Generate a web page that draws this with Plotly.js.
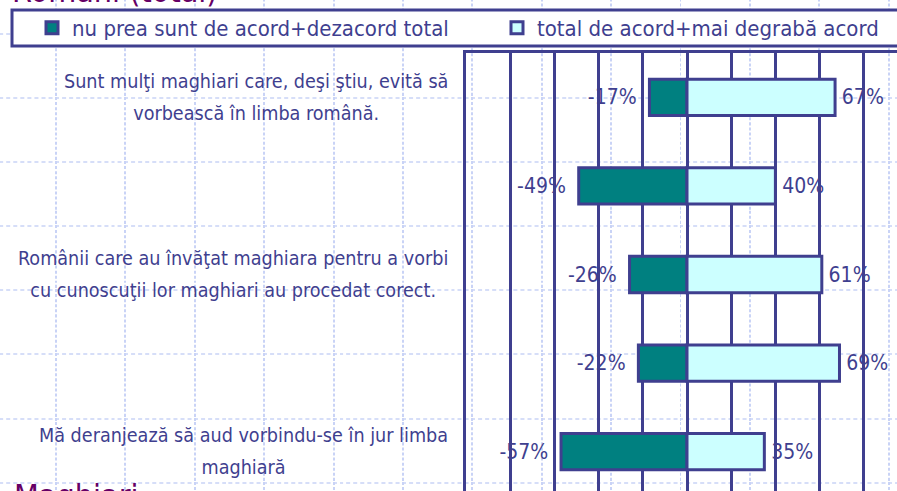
<!DOCTYPE html>
<html><head><meta charset="utf-8">
<script src="https://cdn.plot.ly/plotly-3.0.1.min.js"></script>
<style>
html,body{margin:0;padding:0;overflow:hidden;width:897px;height:491px;background:#fff;}
#wrap{width:897px;height:491px;overflow:hidden;position:relative;background-color:#fff;
background-image:url("data:image/svg+xml,%3Csvg xmlns='http://www.w3.org/2000/svg' width='69.4' height='64.1'%3E%3Cline x1='1' y1='0' x2='1' y2='64.1' stroke='%23c9d3f6' stroke-width='2' stroke-dasharray='3 2'/%3E%3Cline x1='0' y1='1' x2='69.4' y2='1' stroke='%23c9d3f6' stroke-width='1.6' stroke-dasharray='4 3'/%3E%3C/svg%3E");
background-size:69.4px 64.1px;background-position:55px 33px;}
#chart{width:920px;height:510px;}
</style></head><body><div id="wrap"><div id="chart"></div></div>
<script>
// ---- data ----
const categories = ["Q1", "Q2", "Q3", "Q4", "Q5"];
const labelLines = [
  ["Sunt mulţi maghiari care, deşi ştiu, evită să", "vorbească în limba română."],
  [],
  ["Românii care au învăţat maghiara pentru a vorbi", "cu cunoscuţii lor maghiari au procedat corect."],
  [],
  ["Mă deranjează să aud vorbindu-se în jur limba", "maghiară"]
];
const disagree = [-17, -49, -26, -22, -57];
const agree = [67, 40, 61, 69, 35];
const seriesNames = ["nu prea sunt de acord+dezacord total", "total de acord+mai degrabă acord"];
const titleText = "Români (total)";
const footerText = "Maghiari";

// ---- styling ----
const FONT = "DejaVu Sans Condensed, DejaVu Sans, sans-serif";
const NAVY = "#3f3f8f";
const PURPLE = "#660066";
const W = 920, H = 510;
const L = 466, R = 12, T = 53, B = 14;
const pw = W - L - R, ph = H - T - B;
const px2x = p => (p - L) / pw;
const py2y = p => (H - B - p) / ph;

const traces = [
  {type: "bar", orientation: "h", name: seriesNames[0], legend: "legend", y: categories, x: disagree,
   text: disagree.map(v => v + "%\u00a0\u2009"), textposition: "outside", constraintext: "none",
   cliponaxis: false, textfont: {family: FONT, size: 21, color: NAVY},
   marker: {color: "#008080", line: {color: NAVY, width: 3}}, hoverinfo: "x"},
  {type: "bar", orientation: "h", name: seriesNames[1], legend: "legend2", y: categories, x: agree,
   text: agree.map(v => "\u2009" + v + "%"), textposition: "outside", constraintext: "none",
   cliponaxis: false, textfont: {family: FONT, size: 21, color: NAVY},
   marker: {color: "#ccffff", line: {color: NAVY, width: 3}}, hoverinfo: "x"}
];

const annotations = [];
categories.forEach((c, i) => {
  if (!labelLines[i].length) return;
  annotations.push({
    xref: "paper", yref: "y", x: px2x(450), y: c, xanchor: "right", yanchor: "middle",
    align: "center", showarrow: false,
    text: labelLines[i].map(s => "<span style='font-size:19.6px'>" + s + "</span>").join("<br>"),
    font: {family: FONT, size: 24.6, color: NAVY}
  });
});
annotations.push({
  xref: "paper", yref: "paper", x: px2x(12), y: py2y(475), xanchor: "left", yanchor: "top",
  showarrow: false, text: footerText, font: {family: FONT, size: 32, color: PURPLE}
});

const legendBase = {orientation: "h", xanchor: "left", yanchor: "middle",
  bgcolor: "rgba(0,0,0,0)", borderwidth: 0,
  font: {family: FONT, size: 22, color: NAVY}};

const layout = {
  width: W, height: H,
  margin: {l: L, r: R, t: T, b: B, pad: 0, autoexpand: false},
  paper_bgcolor: "rgba(0,0,0,0)", plot_bgcolor: "rgba(0,0,0,0)",
  font: {family: FONT, color: NAVY},
  title: {text: titleText, font: {family: FONT, size: 32, color: PURPLE},
          xref: "container", x: 12 / W, xanchor: "left",
          yref: "container", y: 1 - 2 / H, yanchor: "bottom", automargin: false},
  barmode: "overlay", bargap: 0.59,
  showlegend: true,
  legend: Object.assign({}, legendBase, {x: px2x(32), y: py2y(28)}),
  legend2: Object.assign({}, legendBase, {x: px2x(497), y: py2y(28)}),
  xaxis: {range: [-100, 100], dtick: 20, tick0: 0, showgrid: true, gridcolor: NAVY, gridwidth: 3,
          zeroline: true, zerolinecolor: NAVY, zerolinewidth: 3,
          showline: true, mirror: true, linecolor: NAVY, linewidth: 3,
          ticksuffix: "%", showticklabels: false, ticks: "", fixedrange: true},
  yaxis: {type: "category", autorange: "reversed", showgrid: false, zeroline: false,
          showline: true, mirror: true, linecolor: NAVY, linewidth: 3,
          showticklabels: false, ticks: "", fixedrange: true},
  shapes: [{type: "rect", xref: "paper", yref: "paper", x0: px2x(12), x1: px2x(940),
            y0: py2y(46), y1: py2y(10), line: {color: NAVY, width: 3}, fillcolor: "#ffffff",
            layer: "above"}],
  annotations: annotations
};

Plotly.newPlot("chart", traces, layout, {displayModeBar: false, staticPlot: true});
</script></body></html>
